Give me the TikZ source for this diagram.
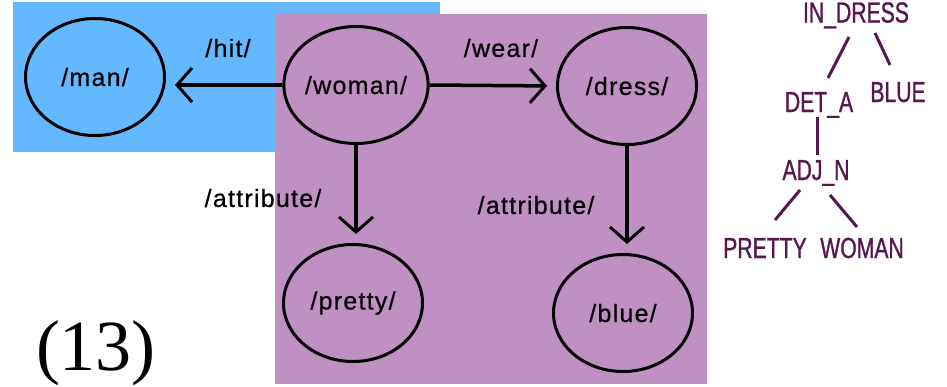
\documentclass[tikz,border=0pt]{standalone}
\usepackage{fontspec}
\usetikzlibrary{shapes.geometric,arrows.meta}
\newfontfamily\lblfont[LetterSpace=5,FakeBold=0.6]{Liberation Sans}
\newfontfamily\treefont[FakeStretch=0.73,FakeBold=1]{Liberation Sans}
\newfontfamily\numfont{Liberation Serif}
\definecolor{bgblue}{RGB}{100,184,255}
\definecolor{bgpurple}{RGB}{191,144,194}
\definecolor{treecol}{RGB}{88,24,78}
\tikzset{
  concept/.style={draw=black, line width=3pt, ellipse, minimum width=139pt, minimum height=117pt, inner sep=0pt, font=\lblfont\fontsize{25}{28}\selectfont},
  rel/.style={font=\lblfont\fontsize{25}{28}\selectfont, inner sep=0pt},
  arr/.style={line width=3.5pt, -{Straight Barb[length=15pt,width=34pt,line width=3pt]}, shorten >=9pt},
  tnode/.style={text=treecol, font=\treefont\fontsize{29}{31}\selectfont, inner sep=0pt, anchor=base},
  tedge/.style={draw=treecol, line width=3pt}
}
\begin{document}
\begin{tikzpicture}[x=1pt,y=-1pt]
\useasboundingbox (0,0) rectangle (947,386);
% backgrounds
\fill[bgblue] (13,2) rectangle (440,152);
\fill[bgpurple] (275,14) rectangle (707,384);
% concept nodes
\node[concept] (man) at (95,77) {/man/};
\node[concept] (woman) at (356,85) {/woman/};
\node[concept] (dress) at (627,86) {/dress/};
\node[concept] (pretty) at (353,303) {/pretty/};
\node[concept] (blue) at (623,313) {/blue/};
% arrows
\draw[arr] (woman.west) -- (woman.west -| man.east);
\draw[arr] (woman.east) -- (dress.west);
\draw[arr] (woman.south) -- (woman.south |- pretty.north);
\draw[arr] (dress.south) -- (dress.south |- blue.north);
% relation labels
\node[rel] (lhit) at (228,48) {/hit/};
\node[rel] (lwear) at (501,48) {/wear/};
\node[rel] (latt1) at (263,198) {/attribute/};
\node[rel] (latt2) at (536,205) {/attribute/};
% example number
\node[anchor=base, inner sep=0pt, font=\numfont\fontsize{72}{80}\selectfont] (num) at (96,370) {(13)};
% tree
\node[tnode] (t1) at (856,22.5) {IN\_DRESS};
\node[tnode] (t2) at (819,112) {DET\_A};
\node[tnode] (t3) at (898,102) {BLUE};
\node[tnode] (t4) at (816,180) {ADJ\_N};
\node[tnode] (t5) at (765,258) {PRETTY};
\node[tnode] (t6) at (862,258) {WOMAN};
\coordinate (e1a) at (849,37); \coordinate (e1b) at (828,78);
\coordinate (e2a) at (875,33); \coordinate (e2b) at (890,65);
\coordinate (e3a) at (817,117); \coordinate (e3b) at (817,155);
\coordinate (e4a) at (800,190); \coordinate (e4b) at (775,220);
\coordinate (e5a) at (830,195); \coordinate (e5b) at (857,227);
\draw[tedge] (e1a) -- (e1b);
\draw[tedge] (e2a) -- (e2b);
\draw[tedge] (e3a) -- (e3b);
\draw[tedge] (e4a) -- (e4b);
\draw[tedge] (e5a) -- (e5b);
\end{tikzpicture}
\end{document}
